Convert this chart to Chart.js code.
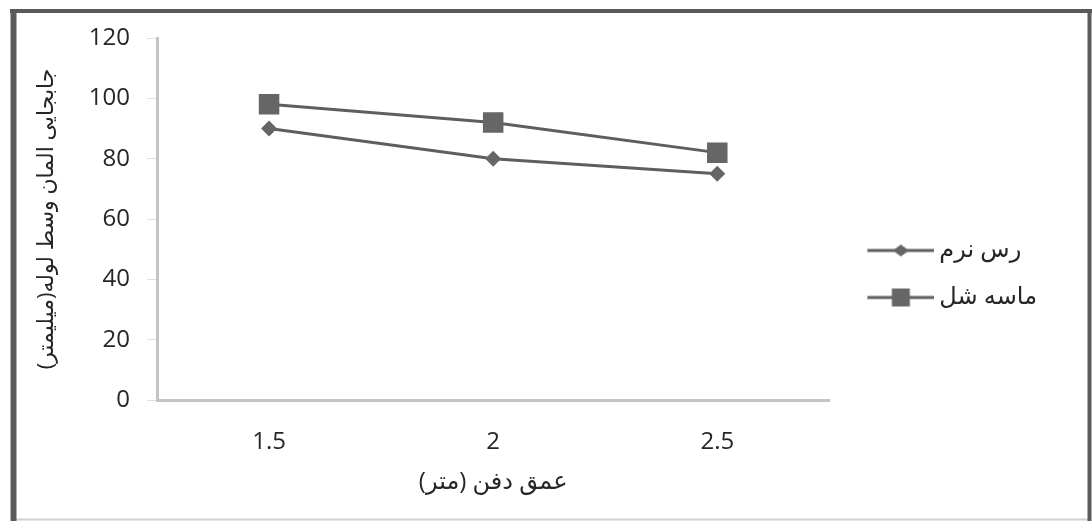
<!DOCTYPE html>
<html>
<head>
<meta charset="utf-8">
<script src="https://cdn.jsdelivr.net/npm/chart.js@4/dist/chart.umd.min.js"></script>
<style>
  html, body { margin: 0; padding: 0; background: #fff; }
  #wrap { width: 1092px; height: 521px; position: relative; }
</style>
</head>
<body>
<div id="wrap"><canvas id="c" width="1092" height="521"></canvas></div>
<script>
// Burial depth (m) and mid-pipe element displacement (mm)
const depths = ['1.5', '2', '2.5'];
const softClay = [90, 80, 75];
const looseSand = [98, 92, 82];
const yTicks = [0, 20, 40, 60, 80, 100, 120];

const seriesNames = ['رس نرم', 'ماسه شل'];
const xTitle = 'عمق دفن (متر)';
const yTitle = 'جابجایی المان وسط لوله(میلیمتر)';

const lineColor = '#5e5e5e';
const markColor = '#666666';
const textColor = '#262626';
const axisColor = '#c4c4c4';

// Legend swatch: a line segment with the series marker in its middle.
// The box is 75px wide; the canvas overhangs it by 7px on each side.
const SW_BOX = 75;
function swatch(kind) {
  const cv = document.createElement('canvas');
  cv.width = SW_BOX + 14; cv.height = 22;
  const g = cv.getContext('2d');
  const x0 = 22, x1 = cv.width, cx = (x0 + x1) / 2, cy = 11;
  g.strokeStyle = lineColor; g.lineWidth = 3;
  g.beginPath(); g.moveTo(x0, cy); g.lineTo(x1, cy); g.stroke();
  g.fillStyle = markColor;
  if (kind === 'diamond') {
    g.beginPath(); g.moveTo(cx - 8, cy); g.lineTo(cx, cy - 6); g.lineTo(cx + 8, cy); g.lineTo(cx, cy + 6); g.closePath(); g.fill();
  } else {
    g.fillRect(cx - 9, cy - 9, 18, 18);
  }
  return cv;
}
const swatches = [swatch('diamond'), swatch('square')];

// Outer frame of the figure
const framePlugin = {
  id: 'frame',
  beforeDraw(chart) {
    const g = chart.ctx;
    g.save();
    g.fillStyle = '#ffffff';
    g.fillRect(0, 0, chart.width, chart.height);
    g.strokeStyle = '#d0d0d0'; g.lineWidth = 2;
    g.beginPath(); g.moveTo(12, 519.5); g.lineTo(1090, 519.5); g.stroke();
    g.strokeStyle = '#5a5a5a';
    g.lineWidth = 4;
    g.beginPath(); g.moveTo(10, 11); g.lineTo(1092, 11); g.stroke();
    g.beginPath(); g.moveTo(1089.5, 11); g.lineTo(1089.5, 521); g.stroke();
    g.lineWidth = 6;
    g.beginPath(); g.moveTo(13.5, 9); g.lineTo(13.5, 521); g.stroke();
    g.restore();
  }
};

const fontFamily = "'Open Sans', 'DejaVu Sans', sans-serif";
const PAD = { top: 38, left: 28, right: 45, bottom: 11 };

new Chart(document.getElementById('c'), {
  type: 'line',
  data: {
    labels: depths,
    datasets: [
      {
        label: seriesNames[0],
        data: softClay,
        borderColor: lineColor,
        backgroundColor: markColor,
        borderWidth: 3,
        pointStyle: 'rectRot',
        pointRadius: 8,
        pointBorderWidth: 0,
        pointBackgroundColor: markColor,
        tension: 0
      },
      {
        label: seriesNames[1],
        data: looseSand,
        borderColor: lineColor,
        backgroundColor: markColor,
        borderWidth: 3,
        pointStyle: 'rect',
        pointRadius: 14.5,
        pointBorderWidth: 0,
        pointBackgroundColor: markColor,
        tension: 0
      }
    ]
  },
  options: {
    responsive: false,
    animation: false,
    devicePixelRatio: 1,
    layout: { padding: PAD },
    plugins: {
      tooltip: { enabled: false },
      legend: {
        position: 'right',
        align: 'center',
        labels: {
          usePointStyle: true,
          pointStyleWidth: SW_BOX,
          padding: 23,
          color: textColor,
          font: { family: fontFamily, size: 24 },
          generateLabels(chart) {
            return chart.data.datasets.map((ds, i) => ({
              text: ds.label,
              datasetIndex: i,
              pointStyle: swatches[i],
              fillStyle: markColor,
              strokeStyle: lineColor,
              lineWidth: 0,
              fontColor: textColor,
              hidden: false
            }));
          }
        }
      }
    },
    scales: {
      x: {
        type: 'category',
        offset: true,
        afterFit(scale) { scale.height = 110; },
        grid: { display: false, drawTicks: false },
        border: { display: true, color: axisColor, width: 3 },
        ticks: { color: textColor, padding: 28, font: { family: fontFamily, size: 24 } },
        title: { display: true, text: xTitle, color: textColor, padding: { top: 0, bottom: 13 }, font: { family: fontFamily, size: 24 } }
      },
      y: {
        min: 0,
        max: 120,
        afterFit(scale) { scale.width = 157 - PAD.left; },
        afterBuildTicks(scale) { scale.ticks = yTicks.map(v => ({ value: v })); },
        grid: { display: true, drawOnChartArea: false, drawTicks: true, tickLength: 10, color: '#e0e0e0' },
        border: { display: true, color: axisColor, width: 3 },
        ticks: { color: textColor, padding: 17, font: { family: fontFamily, size: 24 } },
        title: { display: true, text: yTitle, color: textColor, padding: { top: 6, bottom: 0 }, font: { family: fontFamily, size: 22 } }
      }
    }
  },
  plugins: [framePlugin]
});
</script>
</body>
</html>
